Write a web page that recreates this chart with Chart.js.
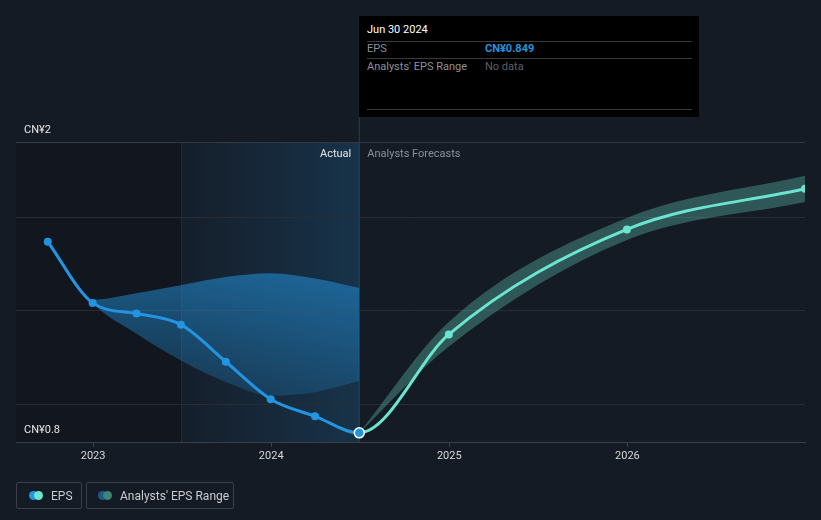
<!DOCTYPE html>
<html>
<head>
<meta charset="utf-8">
<script src="https://cdn.jsdelivr.net/npm/chart.js@4.4.0/dist/chart.umd.min.js"></script>
<style>
  body { margin: 0; background: #151b25; font-family: Roboto, sans-serif; }
  #wrap { position: relative; width: 821px; height: 520px; overflow: hidden; }
  #chart { position: absolute; left: 0; top: 0; }
  .tip { position: absolute; left: 359px; top: 16px; width: 340px; height: 101px; background: #000; }
  .tip .t { position: absolute; left: 8px; top: 7px; font-size: 11px; color: #fff; }
  .tip .ln { position: absolute; left: 8px; width: 325px; height: 1px; background: #3a3a3a; }
  .tip .k { position: absolute; left: 8px; font-size: 11px; color: #8c9099; }
  .tip .v { position: absolute; left: 126px; font-size: 11px; }
  .leg { position: absolute; top: 482px; height: 27px; box-sizing: border-box; border: 1px solid #3a3f48; border-radius: 2px; }
  .leg .dot { position: absolute; top: 8px; width: 9px; height: 9px; border-radius: 50%; }
  .leg span { position: absolute; top: 6px; font-size: 12px; color: #c9ccd1; white-space: nowrap; }
</style>
</head>
<body>
<div id="wrap">
  <canvas id="chart" width="821" height="520"></canvas>
  <div class="tip">
    <div class="t">Jun 30 2024</div>
    <div class="ln" style="top:25px"></div>
    <div class="k" style="top:26px">EPS</div>
    <div class="v" style="top:26px;color:#2394df;font-weight:700">CN¥0.849</div>
    <div class="ln" style="top:42px"></div>
    <div class="k" style="top:44px">Analysts' EPS Range</div>
    <div class="v" style="top:44px;color:#5c6068">No data</div>
    <div class="ln" style="top:93px"></div>
  </div>
  <div class="leg" style="left:16px;width:66px">
    <div class="dot" style="left:12px;background:#2394df"></div>
    <div class="dot" style="left:17px;background:#6ce5cf"></div>
    <span style="left:34px">EPS</span>
  </div>
  <div class="leg" style="left:86px;width:148px">
    <div class="dot" style="left:11px;background:#1f5b86"></div>
    <div class="dot" style="left:16px;background:#3d8479"></div>
    <span style="left:33px">Analysts' EPS Range</span>
  </div>
</div>
<script>
// EPS reported
var epsDates = ['2022-09-30', '2022-12-31', '2023-03-31', '2023-06-30', '2023-09-30', '2023-12-31', '2024-03-31', '2024-06-30'];
var epsValues = [1.868, 1.542, 1.485, 1.426, 1.228, 1.028, 0.937, 0.849];

// past analyst range
var rangeDates = ['2022-09-30', '2022-12-31', '2023-03-31', '2023-06-30', '2023-09-30', '2023-12-31', '2024-03-31', '2024-06-30'];
var rangeHigh = [1.868, 1.56, 1.594, 1.636, 1.68, 1.70, 1.672, 1.622];
var rangeLow = [1.868, 1.542, 1.378, 1.235, 1.12, 1.048, 1.066, 1.125];

// forecasts (after the last reported value)
var forecastDates = ['2024-12-31', '2025-12-31', '2026-12-31'];
var forecastValues = [1.374, 1.934, 2.151];
var bandDates = ['2024-06-30', '2024-12-31', '2025-12-31', '2026-12-31'];
var forecastHigh = [0.849, 1.44, 1.995, 2.22];
var forecastLow = [0.849, 1.31, 1.877, 2.08];

var yearTicks = [2023, 2024, 2025, 2026];
var gridValues = [0.8, 1.0, 1.5, 2.0, 2.4];
var pastYearStart = '2023-06-30';
var lastActual = '2024-06-30';

var blue = '#2394df';
var teal = '#6ce5cf';

function toYear(s) {
    var d = new Date(s + 'T00:00:00Z');
    var y = d.getUTCFullYear();
    var a = Date.UTC(y, 0, 1), b = Date.UTC(y + 1, 0, 1);
    return y + (d.getTime() - a) / (b - a);
}

function pts(dates, vals) {
    return dates.map(function (d, i) { return { x: toYear(d), y: vals[i] }; });
}

var shade = {
    id: 'shade',
    beforeDraw: function (chart) {
        var c = chart.ctx, a = chart.chartArea, x = chart.scales.x;
        var x0 = x.getPixelForValue(toYear(pastYearStart));
        var x1 = x.getPixelForValue(toYear(lastActual));
        c.save();
        c.fillStyle = '#12161e';
        c.fillRect(a.left, a.top, x0 - a.left, a.bottom - a.top);
        var g = c.createLinearGradient(x0, 0, x1, 0);
        g.addColorStop(0, 'rgba(35,148,223,0.03)');
        g.addColorStop(1, 'rgba(35,148,223,0.2)');
        c.fillStyle = g;
        c.fillRect(x0, a.top, x1 - x0, a.bottom - a.top);
        c.fillStyle = 'rgba(35,148,223,0.15)';
        c.fillRect(x0, a.top, 1, a.bottom - a.top);
        c.fillStyle = 'rgba(35,148,223,0.3)';
        c.fillRect(x1 - 0.5, 16, 1, a.bottom - 16);
        c.restore();
    },
    afterDraw: function (chart) {
        var c = chart.ctx, a = chart.chartArea, x = chart.scales.x, y = chart.scales.y;
        var xl = x.getPixelForValue(toYear(lastActual));
        c.save();
        c.font = '11px Roboto, sans-serif';
        c.textBaseline = 'middle';
        c.fillStyle = '#e6e6e6';
        c.fillText('CN¥2', 24, y.getPixelForValue(2.4) - 12);
        c.fillText('CN¥0.8', 24, y.getPixelForValue(0.8) - 12);
        c.textAlign = 'right';
        c.fillText('Actual', xl - 8, a.top + 12);
        c.textAlign = 'left';
        c.fillStyle = '#8c9099';
        c.fillText('Analysts Forecasts', xl + 8, a.top + 12);
        c.restore();
    }
};

var pastBand = function (ctx) {
    var a = ctx.chart.chartArea;
    if (!a) return 'rgba(35,148,223,0.4)';
    var g = ctx.chart.ctx.createLinearGradient(0, 270, 0, 400);
    g.addColorStop(0, 'rgba(35,148,223,0.55)');
    g.addColorStop(1, 'rgba(35,148,223,0.2)');
    return g;
};

// one EPS curve, reported part blue and forecast part teal
var allDates = epsDates.concat(forecastDates);
var allValues = epsValues.concat(forecastValues);
var n = epsValues.length;

new Chart(document.getElementById('chart'), {
    type: 'line',
    data: {
        datasets: [{
            data: pts(allDates, allValues),
            borderColor: blue,
            borderWidth: 3,
            segment: {
                borderColor: function (ctx) { return ctx.p0DataIndex >= n - 1 ? teal : blue; }
            },
            pointRadius: allValues.map(function (v, i) { return i === n - 1 ? 5 : 4; }),
            pointBackgroundColor: allValues.map(function (v, i) { return i < n ? blue : teal; }),
            pointBorderColor: allValues.map(function (v, i) { return i === n - 1 ? '#ffffff' : 'rgba(0,0,0,0)'; }),
            pointBorderWidth: allValues.map(function (v, i) { return i === n - 1 ? 1.5 : 0; }),
            cubicInterpolationMode: 'monotone',
            fill: false
        }, {
            data: pts(rangeDates, rangeLow),
            borderWidth: 0,
            pointRadius: 0,
            cubicInterpolationMode: 'monotone',
            fill: false
        }, {
            data: pts(rangeDates, rangeHigh),
            borderWidth: 0,
            pointRadius: 0,
            backgroundColor: pastBand,
            cubicInterpolationMode: 'monotone',
            fill: 1
        }, {
            data: pts(bandDates, forecastLow),
            borderWidth: 0,
            pointRadius: 0,
            cubicInterpolationMode: 'monotone',
            fill: false
        }, {
            data: pts(bandDates, forecastHigh),
            borderWidth: 0,
            pointRadius: 0,
            backgroundColor: 'rgba(108,228,206,0.3)',
            cubicInterpolationMode: 'monotone',
            fill: 3
        }]
    },
    options: {
        responsive: false,
        animation: false,
        events: [],
        layout: { padding: { left: 16, right: 16, top: 142, bottom: 0 } },
        plugins: { legend: { display: false }, tooltip: { enabled: false } },
        scales: {
            x: {
                type: 'linear',
                min: 2022.567,
                max: toYear('2026-12-31'),
                afterBuildTicks: function (s) { s.ticks = yearTicks.map(function (v) { return { value: v }; }); },
                afterFit: function (s) { s.height = 78; },
                ticks: {
                    color: '#d8d8d8',
                    font: { family: 'Roboto', size: 11 },
                    padding: 3,
                    maxRotation: 0,
                    callback: function (v) { return String(v); }
                },
                grid: { drawOnChartArea: false, drawTicks: true, tickLength: 5, color: '#3a3f48' },
                border: { display: true, color: '#3a3f48' }
            },
            y: {
                type: 'linear',
                min: 0.8,
                max: 2.4,
                afterBuildTicks: function (s) { s.ticks = gridValues.map(function (v) { return { value: v }; }); },
                afterFit: function (s) { s.width = 0; },
                ticks: { display: false },
                grid: {
                    drawTicks: false,
                    color: function (ctx) {
                        var v = ctx.tick ? ctx.tick.value : 0;
                        if (v === 0.8) return 'rgba(0,0,0,0)';
                        if (v === 2.4) return '#343841';
                        return '#272c35';
                    }
                },
                border: { display: false }
            }
        }
    },
    plugins: [shade]
});
</script>
</body>
</html>
